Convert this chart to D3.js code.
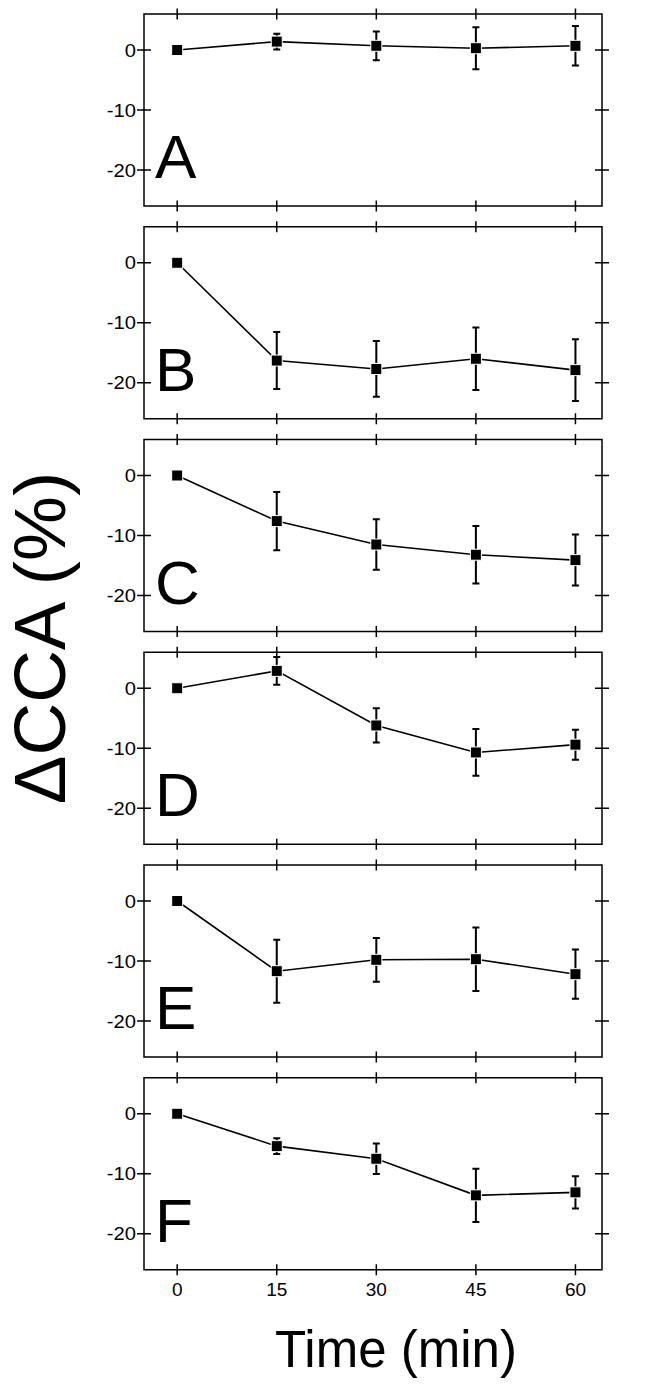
<!DOCTYPE html>
<html>
<head>
<meta charset="utf-8">
<script src="https://cdn.jsdelivr.net/npm/d3@7"></script>
<style>
  body { margin: 0; background: #fff; }
  svg { display: block; font-family: "Liberation Sans", Arial, sans-serif; }
</style>
</head>
<body>
<svg width="658" height="1385"></svg>
<script>
// data
const times = [0, 15, 30, 45, 60];
const panelLabels = ["A", "B", "C", "D", "E", "F"];
const meanA = [0, 1.4, 0.7, 0.3, 0.7];
const errA = [0, 1.3, 2.4, 3.5, 3.3];
const meanB = [0, -16.3, -17.7, -16.0, -17.9];
const errB = [0, 4.75, 4.65, 5.2, 5.15];
const meanC = [0, -7.6, -11.5, -13.2, -14.1];
const errC = [0, 4.85, 4.2, 4.8, 4.25];
const meanD = [0, 2.9, -6.2, -10.7, -9.4];
const errD = [0, 2.3, 2.85, 3.9, 2.5];
const meanE = [0, -11.7, -9.8, -9.7, -12.2];
const errE = [0, 5.25, 3.65, 5.3, 4.1];
const meanF = [0, -5.4, -7.5, -13.6, -13.1];
const errF = [0, 1.3, 2.55, 4.45, 2.7];
const yTicks = [0, -10, -20];

const means = [meanA, meanB, meanC, meanD, meanE, meanF];
const errs = [errA, errB, errC, errD, errE, errF];

// layout
const left = 144, right = 602;
const firstTop = 14, panelH = 192, step = 212.75;

const svg = d3.select('svg');

const x = d3.scaleLinear()
  .domain([-5, 64])
  .range([left, right]);

panelLabels.forEach((label, p) => {
  const top = firstTop + p * step;
  const y = d3.scaleLinear()
    .domain([-26, 6])
    .range([top + panelH, top]);

  const rows = times.map((t, i) => ({ t: t, v: means[p][i], e: errs[p][i] }));
  const g = svg.append('g');

  // frame
  g.append('rect')
    .attr('x', left).attr('y', top)
    .attr('width', right - left).attr('height', panelH)
    .attr('fill', 'none').attr('stroke', '#000').attr('stroke-width', 1.5);

  // ticks crossing the frame on all four sides
  g.selectAll('.xt').data(times).enter().append('path')
    .attr('d', d => `M${x(d)},${top - 5.5}V${top + 5.5}M${x(d)},${top + panelH - 5.5}V${top + panelH + 5.5}`)
    .attr('stroke', '#000').attr('stroke-width', 1.5);
  g.selectAll('.yt').data(yTicks).enter().append('path')
    .attr('d', d => `M${left - 7},${y(d)}H${left + 7}M${right - 7},${y(d)}H${right + 7}`)
    .attr('stroke', '#000').attr('stroke-width', 1.5);

  g.selectAll('.yl').data(yTicks).enter().append('text')
    .attr('transform', d => `translate(${left - 8},${y(d) + 6.5}) scale(1.12,1)`)
    .attr('text-anchor', 'end')
    .style('font-size', '18px')
    .text(d => d);

  // panel letter
  g.append('text')
    .attr('x', 155).attr('y', top + 164)
    .style('font-size', '62px')
    .text(label);

  // connecting line
  g.append('path')
    .datum(rows)
    .attr('d', d3.line().x(d => x(d.t)).y(d => y(d.v)))
    .attr('fill', 'none').attr('stroke', '#000').attr('stroke-width', 1.6);

  // error bars
  g.selectAll('.eb').data(rows.filter(d => d.e > 0)).enter().append('path')
    .attr('d', d => {
      const cx = x(d.t), y1 = y(d.v + d.e), y2 = y(d.v - d.e);
      return `M${cx},${y1}V${y2}M${cx - 3.5},${y1}H${cx + 3.5}M${cx - 3.5},${y2}H${cx + 3.5}`;
    })
    .attr('fill', 'none').attr('stroke', '#000').attr('stroke-width', 2);

  // square markers
  g.selectAll('.pt').data(rows).enter().append('rect')
    .attr('x', d => x(d.t) - 5.5).attr('y', d => y(d.v) - 5.5)
    .attr('width', 11).attr('height', 11)
    .attr('fill', '#000').attr('stroke', '#fff').attr('stroke-width', 1);

  // bottom tick labels on last panel
  if (p === panelLabels.length - 1) {
    g.selectAll('.xl').data(times).enter().append('text')
      .attr('x', d => x(d)).attr('y', top + panelH + 26)
      .attr('text-anchor', 'middle')
      .style('font-size', '19px')
      .text(d => d);
  }
});

// axis titles
svg.append('text')
  .attr('transform', 'translate(65,638) rotate(-90)')
  .attr('text-anchor', 'middle')
  .style('font-size', '73px')
  .text('ΔCCA (%)');

svg.append('text')
  .attr('x', 396).attr('y', 1367)
  .attr('text-anchor', 'middle')
  .style('font-size', '51px')
  .text('Time (min)');
</script>
</body>
</html>
